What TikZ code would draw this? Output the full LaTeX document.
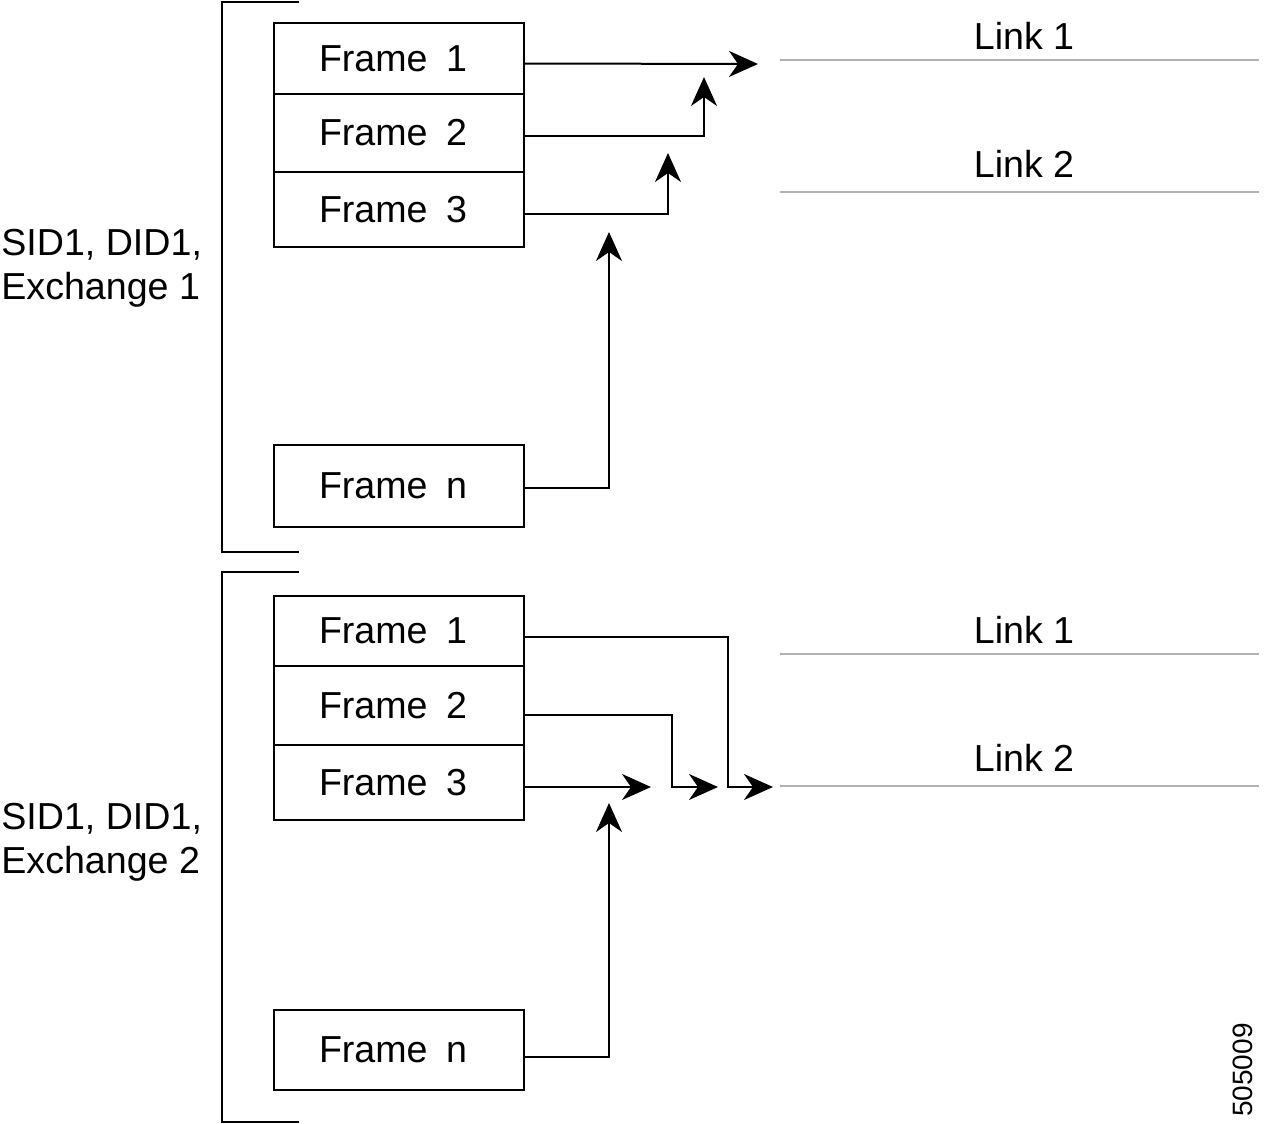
\documentclass[tikz,border=0pt]{standalone}
\usepackage{fontspec}
\setmainfont{Liberation Sans}
\usetikzlibrary{arrows.meta}
\tikzset{
  x = 0.5pt, % one pixel of the reference
  y = -0.5pt, % y runs downwards
  frame/.style = { % 'frame' box style
    draw,
    line width = 1pt,
    minimum height = #1, % argument = height
    text width = 80pt, % 80pt + 2*22.5pt = 125pt wide
    inner xsep = 22.5pt,
    inner ysep = 0pt,
    align = left,
    font = \fontsize{18.8}{22}\selectfont,
  },
  arr/.style = { % routing arrow
    -{Stealth[length=14.5pt,width=13pt,inset=4.5pt]},
    line width = 1pt,
  },
  link/.style = { % thin grey link line
    draw = black!30,
    line width = 0.6pt,
  },
  bracket/.style = { line width = 1pt },
  lbl/.style = { % plain text
    font = \fontsize{18.8}{22}\selectfont,
    inner sep = 0pt,
  },
}
\newcommand{\fr}[1]{Frame\hspace{3pt} #1} % frame label, wide gap

\begin{document}
\begin{tikzpicture}
    \useasboundingbox (0,0) rectangle (1264,1124);
    % exchange 1
    \node[frame=35.5pt] (f11) at (399,58.5) {\fr{1}};
    \node[frame=39pt]   (f12) at (399,133)  {\fr{2}};
    \node[frame=37.5pt] (f13) at (399,209.5) {\fr{3}};
    \node[frame=41pt]   (f1n) at (399,486)  {\fr{n}};
    \coordinate (t1) at (758,64); % arrow tips
    \coordinate (t2) at (704,77);
    \coordinate (t3) at (668,153);
    \coordinate (tn) at (609,232);
    \draw[arr] ([yshift=-2.5pt]f11.east) -- (t1);
    \draw[arr] ([yshift=-1.5pt]f12.east) -| (t2);
    \draw[arr] ([yshift=-2pt]f13.east) -| (t3);
    \draw[arr] ([yshift=-1pt]f1n.east) -| (tn);
    \node[lbl,anchor=west,align=left] (ex1) at (1,268) {SID1, DID1,\\Exchange 1};
    % exchange 2
    \node[frame=35pt]   (f21) at (399,631)   {\fr{1}};
    \node[frame=39.5pt] (f22) at (399,705.5) {\fr{2}};
    \node[frame=37.5pt] (f23) at (399,782.5) {\fr{3}};
    \node[frame=40pt]   (f2n) at (399,1050)  {\fr{n}};
    \coordinate (b1) at (773,787); % arrow tips
    \coordinate (b2) at (718,787);
    \coordinate (b3) at (651,787);
    \coordinate (bn) at (609,803);
    \draw[arr] ([yshift=-3pt]f21.east) -| ([xshift=-22.5pt]b1) -- (b1);
    \draw[arr] ([yshift=-4.75pt]f22.east) -| ([xshift=-23pt]b2) -- (b2);
    \draw[arr] ([yshift=-2.25pt]f23.east) -- (b3);
    \draw[arr] ([yshift=-3.5pt]f2n.east) -| (bn);
    \node[lbl,anchor=west,align=left] (ex2) at (1,842) {SID1, DID1,\\Exchange 2};
    % brackets and links
    \foreach \dy in {0,570}{ % loop through groups
      \draw[bracket] (299,2+\dy) -| (222,552+\dy) -- (299,552+\dy);
    } % end loop
    \foreach \dy in {0,594}{
      \draw[link] (780,60+\dy) -- (1259,60+\dy); % link 1
      \draw[link] (780,192+\dy) -- (1259,192+\dy); % link 2
      \node[lbl] at (1024,36+\dy) {Link 1};
      \node[lbl] at (1024,164+\dy) {Link 2};
    } % end loop
    \node[lbl,font=\fontsize{14}{16}\selectfont,rotate=90] (num) at (1243,1070) {505009};
\end{tikzpicture}
\end{document}
